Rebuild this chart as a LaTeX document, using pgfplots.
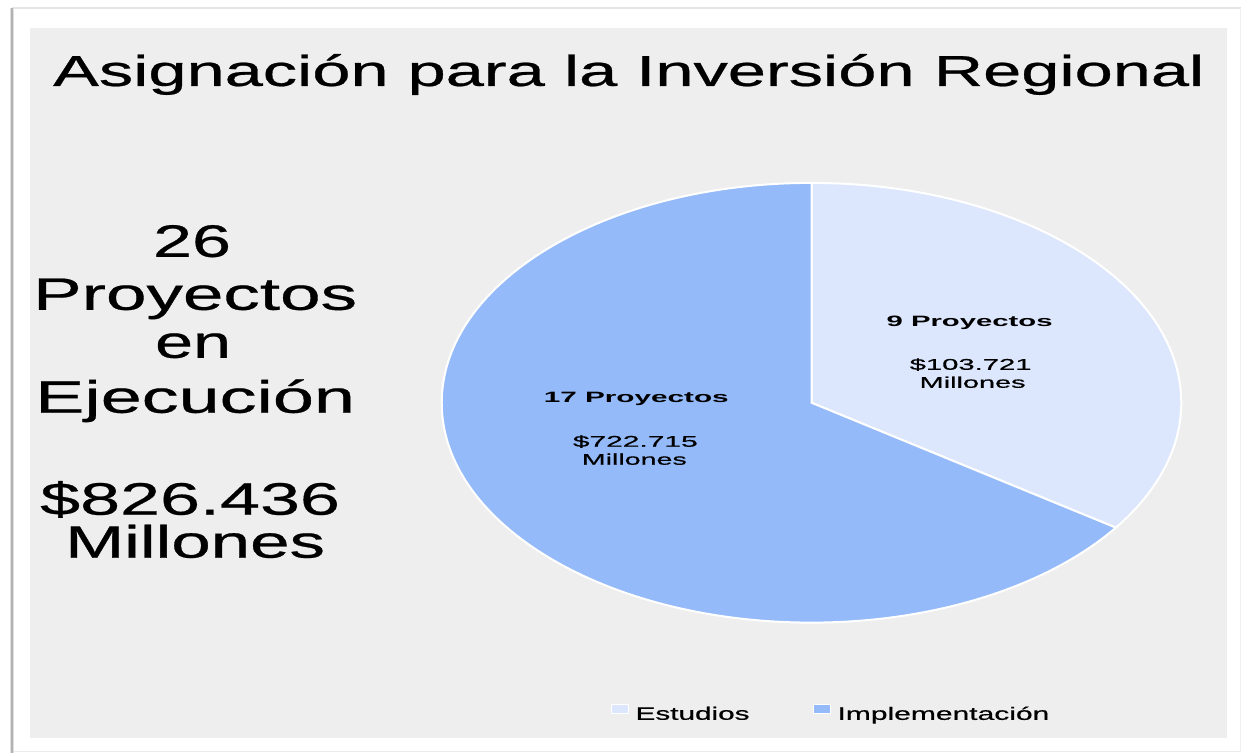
\documentclass[border=0pt]{standalone}
\usepackage{pgfplots}
\usepackage{pgfplotstable}
\usepackage{graphicx}
\usepackage{fontspec}
\setmainfont{Liberation Sans}
\newfontfamily\heavy[FakeBold=0.5]{Liberation Sans}
\pgfplotsset{compat=1.18}
\definecolor{panel}{HTML}{EEEEEE}
\definecolor{est}{HTML}{DCE7FD}
\definecolor{impl}{HTML}{94BAF9}
\pgfplotstableread{
cat proyectos millones
Estudios 9 103.721
Implementacion 17 722.715
}\datatable
\newcommand\sw[3]{\resizebox{#1pt}{\height}{\fontsize{#2}{#2}\selectfont #3}}
\begin{document}
\begin{tikzpicture}
\pgfplotstablegetelem{0}{proyectos}\of\datatable
\pgfmathsetmacro\nE{\pgfplotsretval}
\pgfplotstablegetelem{1}{proyectos}\of\datatable
\pgfmathsetmacro\nI{\pgfplotsretval}
\pgfmathsetmacro\aE{360*\nE/(\nE+\nI)}
\pgfmathsetmacro\aI{360*\nI/(\nE+\nI)}
\begin{axis}[
  width=1242pt, height=753pt, scale only axis,
  xmin=0, xmax=1242, ymin=0, ymax=753,
  enlargelimits=false, hide axis, clip=false,
  legend columns=2,
  legend style={at={(axis cs:611,31.2)}, anchor=south west, draw=none, fill=none,
    inner sep=0pt, outer sep=0pt, column sep=7pt,
    nodes={inner sep=0pt, outer sep=0pt},
    /tikz/every even column/.append style={column sep=63pt}},
]
% background and frame
\fill[white] (axis cs:0,0) rectangle (axis cs:1242,753);
\draw[black!10, line width=1.5pt] (axis cs:12,745) -- (axis cs:1242,745);
\draw[black!8, line width=1pt] (axis cs:12,1) -- (axis cs:1242,1);
\draw[black!6, line width=1pt] (axis cs:1241,1) -- (axis cs:1241,745);
\draw[black!12, line width=4pt] (axis cs:12,0) -- (axis cs:12,745);
\draw[black!30, line width=1.5pt] (axis cs:12,0) -- (axis cs:12,745);
\fill[panel] (axis cs:30,15) rectangle (axis cs:1228,725);
% title
\node[anchor=base west, inner sep=0pt] at (axis cs:53,667) {\sw{1152}{43.3}{\heavy Asignación para la Inversión Regional}};
% left text
\node[anchor=base west, inner sep=0pt] at (axis cs:153,496) {\sw{78}{45.5}{\heavy 26}};
\node[anchor=base west, inner sep=0pt] at (axis cs:33,443) {\sw{324}{45.5}{\heavy Proyectos}};
\node[anchor=base west, inner sep=0pt] at (axis cs:155,395) {\sw{76}{45.5}{\heavy en}};
\node[anchor=base west, inner sep=0pt] at (axis cs:35,340) {\sw{320}{45.5}{\heavy Ejecución}};
\node[anchor=base west, inner sep=0pt] at (axis cs:40,238) {\sw{300}{45.5}{\heavy \$826.436}};
\node[anchor=base west, inner sep=0pt] at (axis cs:65,195) {\sw{260}{45.5}{\heavy Millones}};
% pie slices
\filldraw[fill=est, draw=white, line width=2pt] (axis cs:812,350) -- (axis cs:812,570)
  arc[start angle=90, delta angle=-\aE, x radius=370pt, y radius=220pt] -- cycle;
\filldraw[fill=impl, draw=white, line width=2pt] (axis cs:812,350) -- (axis cs:812,570)
  arc[start angle=90, delta angle=\aI, x radius=370pt, y radius=220pt] -- cycle;
% pie labels
\node[anchor=base west, inner sep=0pt] at (axis cs:887,426) {\sw{166}{15}{\bfseries 9 Proyectos}};
\node[anchor=base west, inner sep=0pt] at (axis cs:910,383) {\sw{122}{15.5}{\heavy \$103.721}};
\node[anchor=base west, inner sep=0pt] at (axis cs:920,365) {\sw{106}{15.5}{\heavy Millones}};
\node[anchor=base west, inner sep=0pt] at (axis cs:544,350) {\sw{185}{15}{\bfseries 17 Proyectos}};
\node[anchor=base west, inner sep=0pt] at (axis cs:573,306) {\sw{125}{15.5}{\heavy \$722.715}};
\node[anchor=base west, inner sep=0pt] at (axis cs:582,288) {\sw{105}{15.5}{\heavy Millones}};
% legend
\addlegendimage{legend image code/.code={\filldraw[fill=est, draw=white, line width=1pt] (0pt,0pt) rectangle (17pt,9pt);}}
\addlegendentry{\sw{114}{18}{\heavy Estudios}}
\addlegendimage{legend image code/.code={\filldraw[fill=impl, draw=white, line width=1pt] (0pt,0pt) rectangle (17pt,9pt);}}
\addlegendentry{\sw{212}{18}{\heavy Implementación}}
\end{axis}
\end{tikzpicture}
\end{document}
